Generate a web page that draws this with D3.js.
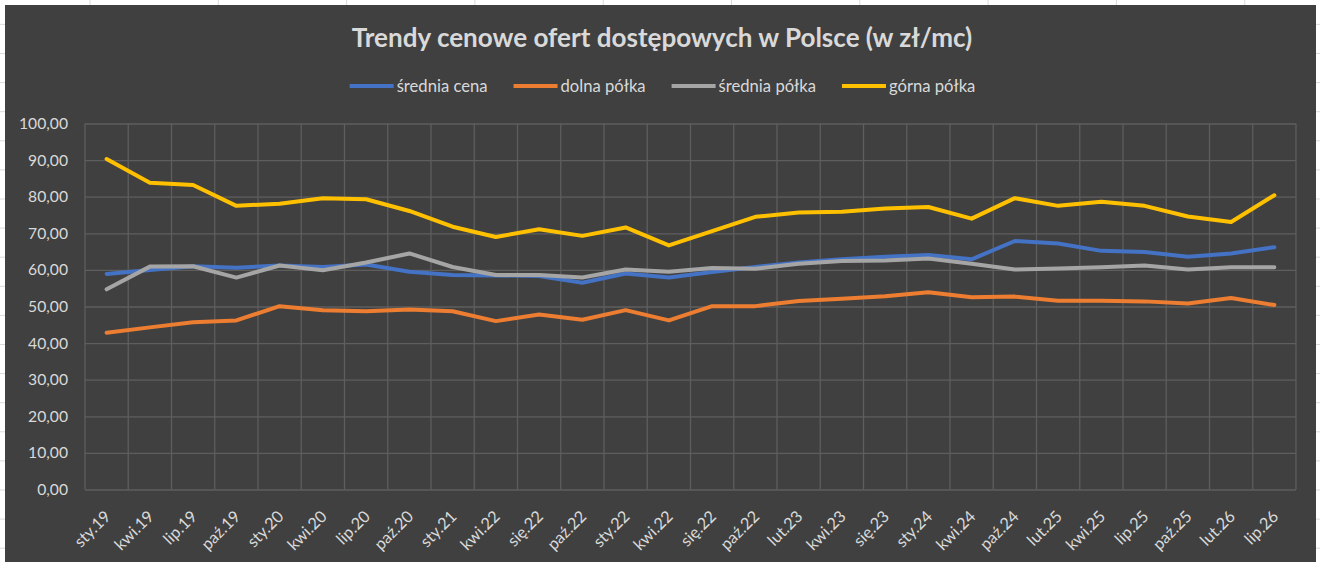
<!DOCTYPE html>
<html>
<head>
<meta charset="utf-8">
<script src="https://cdn.jsdelivr.net/npm/d3@7/dist/d3.min.js"></script>
<style>
  html, body { margin: 0; padding: 0; background: #ffffff; }
  svg { display: block; }
  text { font-family: Lato, "Open Sans", "Noto Sans", sans-serif; }
</style>
</head>
<body>
<svg id="chart" width="1320" height="562"></svg>
<script>
// ---------- data ----------
const categories = ["sty.19","kwi.19","lip.19","paź.19","sty.20","kwi.20","lip.20","paź.20","sty.21","kwi.22","się.22","paź.22","sty.22","kwi.22","się.22","paź.22","lut.23","kwi.23","się.23","sty.24","kwi.24","paź.24","lut.25","kwi.25","lip.25","paź.25","lut.26","lip.26"];

const sredniaCena = [58.9,60.0,61.0,60.6,61.2,60.8,61.5,59.5,58.6,58.5,58.3,56.5,59.0,57.9,59.4,60.8,62.0,62.9,63.6,64.1,62.9,67.9,67.2,65.2,64.9,63.6,64.5,66.2];
const dolnaPolka  = [42.8,44.3,45.7,46.2,50.1,49.0,48.7,49.2,48.7,46.0,47.8,46.4,49.0,46.2,50.1,50.1,51.5,52.1,52.8,53.9,52.5,52.7,51.6,51.6,51.4,50.8,52.3,50.4];
const sredniaPolka= [54.7,60.9,61.0,57.9,61.2,59.9,62.0,64.5,60.8,58.6,58.6,57.9,60.1,59.5,60.5,60.3,61.7,62.4,62.6,63.1,61.7,60.1,60.4,60.7,61.2,60.1,60.7,60.7];
const gornaPolka  = [90.3,83.8,83.2,77.5,78.1,79.6,79.3,76.1,71.8,69.0,71.1,69.3,71.6,66.7,70.6,74.5,75.7,75.9,76.8,77.2,74.0,79.6,77.5,78.6,77.5,74.6,73.1,80.4];

const seriesNames  = ["średnia cena","dolna półka","średnia półka","górna półka"];
const seriesColors = ["#4472C4","#ED7D31","#A5A5A5","#FFC000"];
const yTicks = [0,10,20,30,40,50,60,70,80,90,100];
const title = "Trendy cenowe ofert dostępowych w Polsce (w zł/mc)";

const seriesValues = [sredniaCena, dolnaPolka, sredniaPolka, gornaPolka];

// ---------- layout ----------
const W = 1320, H = 562;
const plot = { left: 85, right: 1296, top: 123.5, bottom: 489.5 };
const textColor = "#D9D9D9";
const gridColor = "#5E5E5E";

const svg = d3.select("#chart");

// spreadsheet background
svg.append("rect").attr("width", W).attr("height", H).attr("fill", "#ffffff");
const sheet = svg.append("g").attr("stroke", "#dadada").attr("stroke-width", 1);
for (let x = 90; x < W; x += 128.3) sheet.append("line").attr("x1", x).attr("x2", x).attr("y1", 0).attr("y2", H);
for (let y = 490; y > 0; y -= 29.1) sheet.append("line").attr("x1", 0).attr("x2", W).attr("y1", y).attr("y2", y);
for (let y = 490 + 29.1; y < H; y += 29.1) sheet.append("line").attr("x1", 0).attr("x2", W).attr("y1", y).attr("y2", y);

// chart area
svg.append("rect").attr("x", 5).attr("y", 5).attr("width", 1311).attr("height", H)
  .attr("fill", "#404040");

// scales
const idx = d3.range(categories.length);
const x = d3.scaleBand().domain(idx).range([plot.left, plot.right]).paddingInner(0).paddingOuter(0);
const y = d3.scaleLinear().domain([0, 100]).range([plot.bottom, plot.top]);
const cx = i => x(i) + x.bandwidth() / 2;

// helper to fit font size to a target width
function fitSize(str, weight, base, target) {
  const t = svg.append("text").attr("font-size", base).attr("font-weight", weight).text(str);
  const w = t.node().getComputedTextLength();
  t.remove();
  return base * target / w;
}

// vertical gridlines at category boundaries
const vg = svg.append("g");
vg.selectAll("line").data(d3.range(categories.length + 1)).join("line")
  .attr("x1", i => plot.left + i * x.step()).attr("x2", i => plot.left + i * x.step())
  .attr("y1", plot.top).attr("y2", plot.bottom)
  .attr("stroke", gridColor).attr("stroke-width", 1.3);

// y axis with horizontal gridlines
const ySize = fitSize("100,00", 400, 17, 49);
const yAxis = d3.axisLeft(y).tickValues(yTicks)
  .tickSize(-(plot.right - plot.left)).tickPadding(17)
  .tickFormat(d => d.toFixed(2).replace(".", ","));
const gy = svg.append("g").attr("transform", `translate(${plot.left},0)`).call(yAxis);
gy.select(".domain").remove();
gy.selectAll(".tick line").attr("stroke", gridColor).attr("stroke-width", 1.3);
gy.selectAll(".tick text").attr("fill", textColor).attr("font-size", ySize)
  .attr("font-family", "Lato, 'Open Sans', sans-serif");

// x axis labels
const xSize = ySize * 1.04;
const xAxis = d3.axisBottom(x).tickSize(0).tickFormat(i => categories[i]);
const gx = svg.append("g").attr("transform", `translate(0,${plot.bottom})`).call(xAxis);
gx.select(".domain").remove();
gx.selectAll(".tick text")
  .attr("fill", textColor).attr("font-size", xSize)
  .attr("font-family", "Lato, 'Open Sans', sans-serif")
  .attr("text-anchor", "end")
  .attr("y", 0).attr("dy", 0)
  .attr("transform", "translate(5,28) rotate(-45)");

// lines
const line = d3.line().x((d, i) => cx(i)).y(d => y(d));
svg.append("g").selectAll("path").data(seriesValues).join("path")
  .attr("d", d => line(d))
  .attr("fill", "none")
  .attr("stroke", (d, i) => seriesColors[i])
  .attr("stroke-width", 4)
  .attr("stroke-linejoin", "round")
  .attr("stroke-linecap", "round");

// title
const tSize = fitSize(title, 700, 24, 621);
svg.append("text").attr("x", 662).attr("y", 47)
  .attr("text-anchor", "middle").attr("font-size", tSize).attr("font-weight", 700)
  .attr("fill", textColor).text(title);

// legend
const lSize = fitSize(seriesNames[0], 400, 17, 91);
const lineLen = 44, gapText = 3, gapItem = 26;
const widths = seriesNames.map(n => {
  const t = svg.append("text").attr("font-size", lSize).text(n);
  const w = t.node().getComputedTextLength(); t.remove(); return w;
});
const total = d3.sum(widths) + seriesNames.length * (lineLen + gapText) + (seriesNames.length - 1) * gapItem;
let lx = 662.5 - total / 2;
const legY = 86;
const lg = svg.append("g");
seriesNames.forEach((n, i) => {
  lg.append("line").attr("x1", lx).attr("x2", lx + lineLen).attr("y1", legY).attr("y2", legY)
    .attr("stroke", seriesColors[i]).attr("stroke-width", 4);
  lg.append("text").attr("x", lx + lineLen + gapText).attr("y", legY).attr("dy", "0.35em")
    .attr("font-size", lSize).attr("fill", textColor).text(n);
  lx += lineLen + gapText + widths[i] + gapItem;
});
</script>
</body>
</html>
